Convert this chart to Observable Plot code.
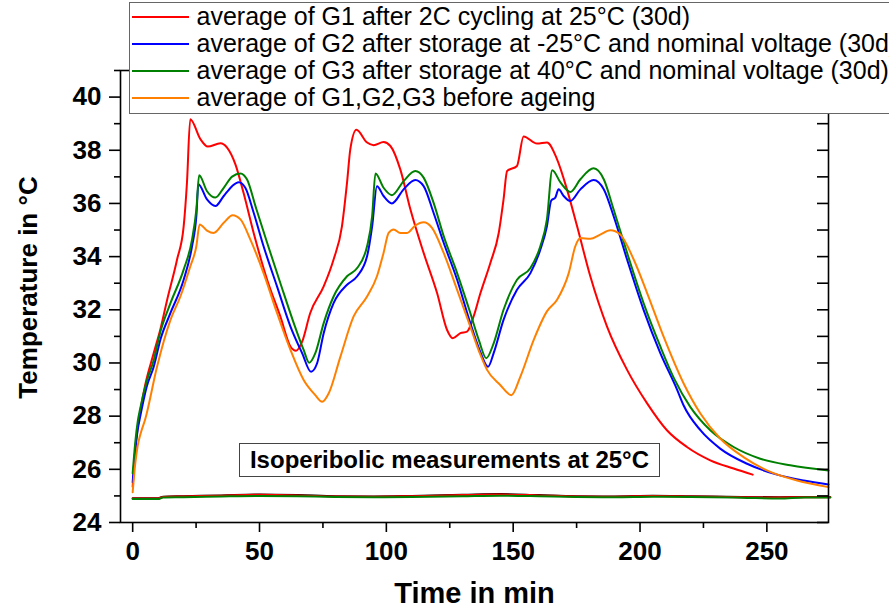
<!DOCTYPE html>
<html>
<head>
<meta charset="utf-8">
<script src="https://cdn.jsdelivr.net/npm/d3@7"></script>
<script src="https://cdn.jsdelivr.net/npm/@observablehq/plot@0.6"></script>
<style>
  html, body { margin: 0; padding: 0; background: #fff; overflow: hidden; }
  #wrap { position: relative; width: 889px; height: 608px; overflow: hidden; font-family: "Liberation Sans", Arial, sans-serif; }
  #legend { position: absolute; left: 129px; top: 2px; width: 820px; height: 112px; box-sizing: border-box;
            border: 1.5px solid #666; background: #fff; }
  .row { position: absolute; left: 0; height: 27px; line-height: 27px; font-size: 25px; color: #000; white-space: nowrap; }
  .sample { position: absolute; left: 1.5px; top: 12.5px; width: 57px; height: 2px; }
  .lbl { position: absolute; left: 66.5px; top: 0; }
  #note { position: absolute; left: 239px; top: 443px; width: 421px; height: 34px; box-sizing: border-box;
          border: 1.5px solid #444; background: #fff; display: flex; align-items: center; justify-content: center;
          font-weight: bold; font-size: 24px; color: #000; white-space: nowrap; }
</style>
</head>
<body>
<div id="wrap">
  <div id="chart"></div>
  <div id="legend"></div>
  <div id="note"></div>
</div>
<script>
// ---- data ----
const seriesNames = ["G1", "G2", "G3", "before"];
const seriesColors = ["#ff0000", "#0000ff", "#008000", "#ff8000"];
const legendLabels = [
  "average of G1 after 2C cycling at 25°C (30d)",
  "average of G2 after storage at -25°C and nominal voltage (30d)",
  "average of G3 after storage at 40°C and nominal voltage (30d)",
  "average of G1,G2,G3 before ageing"
];
const noteText = "Isoperibolic measurements at 25°C";
const xTitle = "Time in min";
const yTitle = "Temperature in °C";

const g1Time = [0, 1, 2, 3, 5, 8.3, 11, 13.6, 17.5, 20.1, 21.4, 22.7, 26.7, 29.6, 34.6, 37.2, 40.5, 43.7, 47.7, 53.0, 58.2, 62.2, 64.4, 66.8, 70.0, 75.3, 79.2, 82.5, 84.5, 85.8, 88.2, 92.4, 95.0, 98.9, 101.6, 105.5, 109.5, 114.7, 120.0, 123.9, 126.2, 129.2, 131.8, 134.4, 137.1, 141.0, 144.3, 146.2, 147.6, 151.5, 154.1, 159.4, 163.3, 167.3, 171.2, 175.2, 180.4, 187.0, 194.9, 202.8, 210.6, 218.5, 227.7, 236.9, 244.4];
const g1Temp = [25.35, 26.7, 27.6, 28.2, 29.2, 30.37, 31.3, 32.38, 33.89, 35.14, 36.78, 39.17, 38.42, 38.14, 38.26, 38.10, 37.47, 36.40, 34.89, 33.13, 31.75, 30.62, 30.46, 30.80, 31.88, 32.88, 33.89, 35.14, 36.78, 38.04, 38.77, 38.29, 38.19, 38.31, 38.16, 37.28, 35.77, 34.14, 32.63, 31.25, 30.93, 31.12, 31.18, 31.75, 32.63, 33.76, 34.89, 36.15, 37.22, 37.41, 38.52, 38.25, 38.29, 37.66, 36.53, 35.14, 33.26, 31.37, 29.74, 28.48, 27.47, 26.84, 26.34, 26.03, 25.80];

const g2Time = [0, 1, 2, 3, 5.5, 8.3, 11, 14.9, 20.1, 23.4, 25.1, 25.9, 29.3, 32.6, 35.9, 39.2, 41.8, 44.4, 47.7, 51.6, 56.9, 62.2, 66.8, 70.3, 72.7, 75.3, 79.2, 84.5, 88.5, 92.4, 94.4, 96.3, 98.9, 102.2, 106.8, 111.4, 114.7, 118.6, 122.6, 127.9, 133.1, 137.1, 140.1, 142.3, 146.2, 151.5, 156.8, 160.7, 163.3, 165.0, 166.6, 167.9, 169.9, 172.5, 176.5, 181.7, 185.7, 189.6, 194.9, 201.4, 208.0, 214.6, 217.2, 223.8, 231.6, 242.2, 254.0, 264.5, 274.3];
const g2Temp = [25.52, 26.7, 27.5, 28.0, 29.1, 29.86, 30.9, 31.88, 33.13, 34.39, 35.52, 36.72, 36.15, 35.90, 36.28, 36.65, 36.80, 36.59, 35.65, 34.39, 32.88, 31.37, 30.37, 29.67, 29.99, 31.12, 32.25, 32.94, 33.26, 34.01, 35.14, 36.65, 36.28, 36.0, 36.53, 36.88, 36.65, 35.65, 34.52, 33.13, 31.5, 30.4, 29.86, 30.37, 31.62, 32.75, 33.38, 34.26, 35.14, 36.11, 36.22, 36.53, 36.28, 36.09, 36.53, 36.88, 36.53, 35.52, 33.89, 32.0, 30.37, 29.0, 28.4, 27.47, 26.78, 26.21, 25.80, 25.58, 25.43];

const g3Time = [0, 1, 2, 3, 5.5, 8.3, 11, 14.9, 20.1, 23.4, 25.1, 26.2, 29.3, 32.6, 35.9, 39.2, 42.5, 45.1, 48.4, 53.0, 58.2, 63.5, 67.4, 69.6, 72.0, 75.3, 79.2, 84.5, 88.5, 92.4, 94.4, 95.7, 98.9, 102.2, 106.8, 111.4, 114.7, 118.6, 122.6, 127.9, 133.1, 136.5, 139.4, 142.3, 146.2, 151.5, 156.8, 160.7, 163.3, 165.4, 168.7, 172.5, 176.5, 181.7, 185.7, 189.6, 194.9, 201.4, 208.0, 213.5, 219.8, 227.7, 236.9, 247.4, 259.2, 274.3];
const g3Temp = [25.85, 27.0, 27.8, 28.3, 29.3, 30.1, 31.2, 32.25, 33.51, 34.64, 35.77, 37.06, 36.46, 36.22, 36.59, 37.01, 37.13, 36.90, 35.90, 34.52, 33.01, 31.50, 30.49, 30.01, 30.37, 31.50, 32.50, 33.26, 33.57, 34.39, 35.52, 37.13, 36.59, 36.31, 36.84, 37.22, 36.97, 36.03, 34.77, 33.38, 31.88, 30.85, 30.18, 30.74, 32.0, 33.13, 33.57, 34.39, 35.40, 37.25, 36.78, 36.43, 36.91, 37.32, 36.91, 35.77, 34.14, 32.25, 30.62, 29.4, 28.35, 27.47, 26.84, 26.40, 26.15, 25.96];

const g0Time = [0, 1, 2, 3, 5.0, 9.6, 14.9, 18.8, 22.7, 25.1, 26.4, 29.3, 31.9, 35.9, 39.4, 42.5, 46.4, 51.6, 56.9, 62.2, 67.4, 72.0, 74.7, 77.3, 81.9, 87.1, 92.4, 96.3, 98.9, 100.9, 102.9, 105.5, 108.2, 111.4, 114.7, 118.0, 122.6, 127.9, 133.1, 137.1, 139.7, 144.9, 149.3, 152.8, 158.1, 163.3, 167.3, 171.9, 174.5, 176.5, 180.4, 184.3, 188.3, 192.2, 197.5, 202.8, 209.3, 217.2, 223.8, 231.6, 240.8, 250.0, 261.9, 274.3];
const g0Temp = [25.14, 26.2, 26.9, 27.3, 27.9, 29.86, 31.62, 32.50, 33.63, 34.39, 35.21, 34.98, 34.89, 35.27, 35.56, 35.40, 34.64, 33.38, 31.88, 30.49, 29.36, 28.79, 28.54, 28.86, 30.24, 31.75, 32.50, 33.26, 34.14, 34.89, 35.02, 34.89, 34.89, 35.17, 35.29, 35.08, 34.14, 32.75, 31.37, 30.3, 29.74, 29.17, 28.79, 29.48, 30.87, 31.94, 32.38, 33.38, 34.39, 34.70, 34.67, 34.83, 34.99, 34.83, 33.89, 32.63, 30.99, 29.23, 28.10, 27.16, 26.46, 25.96, 25.58, 25.33];

// ambient (chamber) temperature traces near 25 °C
const ambTime = [0, 10, 12, 20, 35, 50, 65, 80, 95, 110, 130, 145, 160, 175, 190, 205, 220, 240, 255, 265, 275];
const ambBlack = [24.91, 24.91, 24.97, 24.99, 25.02, 25.05, 25.03, 24.99, 24.98, 25.0, 25.04, 25.07, 25.03, 24.99, 24.98, 25.01, 24.99, 24.96, 24.95, 24.96, 24.96];
const ambRed   = [24.9, 24.9, 24.96, 24.98, 25.01, 25.04, 25.02, 24.98, 24.97, 24.99, 25.03, 25.05, 25.02, 24.98, 24.97, 25.0, 24.98, 24.95, 24.94, 24.95, 24.95];
const ambGreen = [24.88, 24.88, 24.94, 24.95, 24.98, 25.0, 24.99, 24.96, 24.95, 24.96, 24.99, 25.01, 24.99, 24.96, 24.95, 24.97, 24.96, 24.93, 24.9, 24.94, 24.94];
const ambColors = ["#555555", "#ee1111", "#22dd22"];

const xMajor = [0, 50, 100, 150, 200, 250];
const xMinor = [25, 75, 125, 175, 225];
const yMajor = [24, 26, 28, 30, 32, 34, 36, 38, 40];
const yMinor = [25, 27, 29, 31, 33, 35, 37, 39, 41];
const yRight = d3.range(24, 42, 1);

// ---- build tables ----
const seriesTime = [g1Time, g2Time, g3Time, g0Time];
const seriesTemp = [g1Temp, g2Temp, g3Temp, g0Temp];
const rows = [];
seriesNames.forEach((s, i) => seriesTime[i].forEach((t, j) => rows.push({series: s, t, T: seriesTemp[i][j]})));
const ambNames = ["black", "red", "green"];
const ambVals = [ambBlack, ambRed, ambGreen];
const ambRows = [];
ambNames.forEach((s, i) => ambTime.forEach((t, j) => ambRows.push({series: s, t, T: ambVals[i][j]})));

const chart = Plot.plot({
  width: 889,
  height: 608,
  marginLeft: 120,
  marginRight: 61,
  marginTop: 70,
  marginBottom: 86,
  x: {domain: [-4.8, 274.3]},
  y: {domain: [24, 41]},
  color: {domain: seriesNames.concat(ambNames), range: seriesColors.concat(ambColors)},
  style: {fontFamily: "'Liberation Sans', Arial, sans-serif", fontSize: "26px", fontWeight: "bold", color: "#000", background: "#fff"},
  marks: [
    Plot.line(ambRows, {x: "t", y: "T", z: "series", stroke: "series", strokeWidth: 2, curve: "monotone-x"}),
    Plot.line(rows, {x: "t", y: "T", z: "series", stroke: "series", strokeWidth: 2, curve: "monotone-x"}),
    Plot.frame({stroke: "#000", strokeWidth: 1.6}),
    Plot.axisY({ticks: yMajor, tickSize: 11, tickPadding: 8, label: null, strokeWidth: 1.6}),
    Plot.axisY({ticks: yMinor, tickSize: 6, tickFormat: () => "", label: null, strokeWidth: 1.6}),
    Plot.axisX({ticks: xMajor, tickSize: 10, tickPadding: 9, label: null, strokeWidth: 1.6}),
    Plot.axisX({ticks: xMinor, tickSize: 6, tickFormat: () => "", label: null, strokeWidth: 1.6}),
    Plot.tickY(yRight, {y: d => d, insetLeft: 697, stroke: "#000", strokeWidth: 1.6}),
    Plot.text([yTitle], {frameAnchor: "left", textAnchor: "middle", lineAnchor: "middle", rotate: -90, dx: -92, dy: -9, fontSize: 26, fontWeight: "bold", text: d => d}),
    Plot.text([xTitle], {frameAnchor: "bottom", textAnchor: "middle", lineAnchor: "bottom", dy: 80, fontSize: 29, fontWeight: "bold", text: d => d})
  ]
});
document.getElementById("chart").appendChild(chart);

// legend
const legend = document.getElementById("legend");
legendLabels.forEach((lab, i) => {
  const row = document.createElement("div");
  row.className = "row";
  row.style.top = (i * 27) + "px";
  const s = document.createElement("div");
  s.className = "sample";
  s.style.background = seriesColors[i];
  const t = document.createElement("div");
  t.className = "lbl";
  t.textContent = lab;
  row.appendChild(s);
  row.appendChild(t);
  legend.appendChild(row);
});
document.getElementById("note").textContent = noteText;
</script>
</body>
</html>
